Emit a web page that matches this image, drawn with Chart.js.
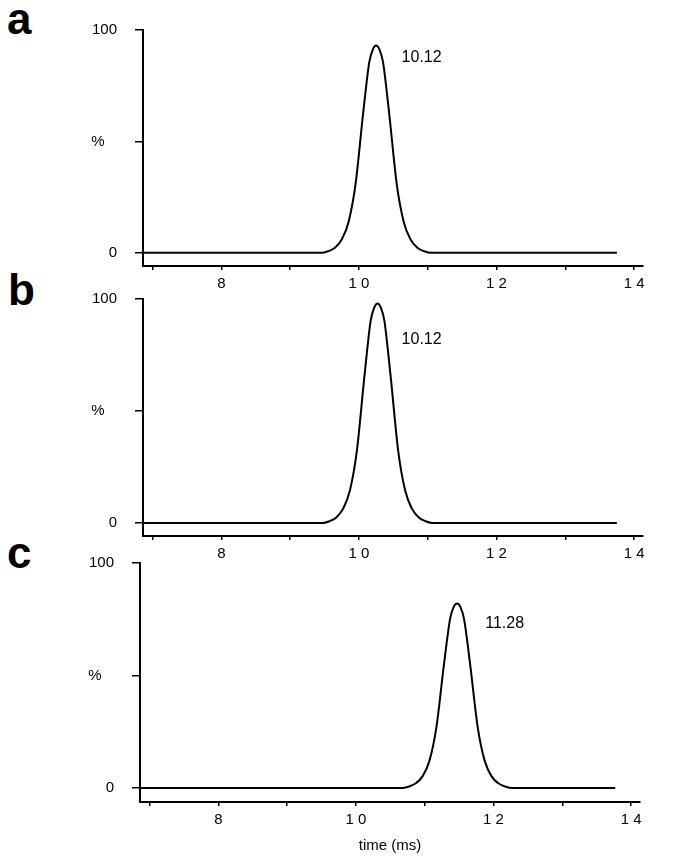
<!DOCTYPE html>
<html>
<head>
<meta charset="utf-8">
<script src="https://cdn.jsdelivr.net/npm/chart.js@4"></script>
<style>
  body { margin: 0; background: #fff; }
  #wrap { position: relative; width: 675px; height: 864px; overflow: hidden; }
  canvas { position: absolute; }
  .tag { position: absolute; font: bold 44px "Liberation Sans", Arial, sans-serif; line-height: 44px; color: #000; }
</style>
</head>
<body>
<div id="wrap">
  <div class="tag" style="left:7px;top:-3px">a</div>
  <div class="tag" style="left:8px;top:268px">b</div>
  <div class="tag" style="left:7px;top:531px">c</div>
  <canvas id="chartA" width="675" height="300" style="left:0;top:0"></canvas>
  <canvas id="chartB" width="675" height="301" style="left:0;top:269px"></canvas>
  <canvas id="chartC" width="675" height="331" style="left:-3px;top:533px"></canvas>
</div>
<script>
const xTicks = [7, 8, 9, 10, 11, 12, 13, 14];
const xTickLabels = ['', '8', '', '1 0', '', '1 2', '', '1 4'];
const yTicks = [0, 50, 100];
const yTickLabels = ['0', '%   ', '100'];

// panel a
const timeA = [6.86, 9.45, 9.55, 9.65, 9.75, 9.85, 9.95, 10.05, 10.10, 10.15, 10.20, 10.25,
  10.30, 10.35, 10.40, 10.45, 10.55, 10.65, 10.75, 10.85, 10.95, 11.05, 13.75];
const signalA = [0, 0, 0.7, 2.3, 6.0, 14.0, 30.7, 59.5, 73.5, 85.6, 91.1, 93,
  91.1, 85.6, 73.5, 59.5, 30.7, 14.0, 6.0, 2.3, 0.7, 0, 0];

// panel b
const timeB = [6.86, 9.47, 9.57, 9.67, 9.77, 9.87, 9.97, 10.07, 10.12, 10.17, 10.22, 10.27,
  10.32, 10.37, 10.42, 10.47, 10.57, 10.67, 10.77, 10.87, 10.97, 11.07, 13.75];
const signalB = [0, 0, 0.8, 2.5, 6.4, 14.7, 32.3, 62.7, 77.4, 90.2, 96.0, 98,
  96.0, 90.2, 77.4, 62.7, 32.3, 14.7, 6.4, 2.5, 0.8, 0, 0];

// panel c
const timeC = [6.86, 10.67, 10.77, 10.87, 10.97, 11.07, 11.17, 11.27, 11.32, 11.37, 11.42, 11.47,
  11.52, 11.57, 11.62, 11.67, 11.77, 11.87, 11.97, 12.07, 12.17, 12.27, 13.77];
const signalC = [0, 0, 0.7, 2.1, 5.3, 12.3, 27.1, 52.5, 64.8, 75.4, 80.4, 82,
  80.4, 75.4, 64.8, 52.5, 27.1, 12.3, 5.3, 2.1, 0.7, 0, 0];

const peakLabels = ['10.12', '10.12', '11.28'];

const FONT = '"Liberation Sans", Arial, sans-serif';
Chart.defaults.font.family = FONT;
Chart.defaults.color = '#000';

const peakText = {
  id: 'peakText',
  afterDatasetsDraw(chart, args, opts) {
    const { ctx, scales: { x, y } } = chart;
    ctx.save();
    ctx.font = '16px ' + FONT;
    ctx.fillStyle = '#000';
    ctx.textBaseline = 'middle';
    ctx.fillText(opts.text, x.getPixelForValue(opts.at[0]), y.getPixelForValue(opts.at[1]));
    ctx.restore();
  }
};

function makeChart(id, time, signal, yMin, label, labelAt, withTitle) {
  return new Chart(document.getElementById(id), {
    type: 'line',
    data: {
      datasets: [{
        data: time.map((t, i) => ({ x: t, y: signal[i] })),
        borderColor: '#000',
        borderWidth: 2,
        pointRadius: 0,
        fill: false,
        cubicInterpolationMode: 'monotone'
      }]
    },
    options: {
      responsive: false,
      animation: false,
      layout: { padding: { top: 30, right: 32, left: 0, bottom: 0 } },
      plugins: {
        legend: { display: false },
        tooltip: { enabled: false },
        peakText: { text: label, at: labelAt }
      },
      scales: {
        x: {
          type: 'linear',
          min: 6.86,
          max: 14.13,
          afterBuildTicks: s => { s.ticks = xTicks.map(v => ({ value: v })); },
          afterFit: s => { s.height = withTitle ? 62 : 34; s.paddingLeft = 0; s.paddingRight = 0; },
          border: { display: true, color: '#000', width: 2 },
          grid: { display: true, drawOnChartArea: false, drawTicks: true, tickLength: 4, color: '#000', lineWidth: 1.5 },
          ticks: {
            autoSkip: false, maxRotation: 0, padding: 5, color: '#000',
            font: { size: 15 },
            callback: (v, i) => xTickLabels[i]
          },
          title: {
            display: withTitle, text: 'time (ms)', color: '#000',
            font: { size: 15 }, padding: { top: 0, bottom: 9 }
          }
        },
        y: {
          min: yMin,
          max: 100,
          afterBuildTicks: s => { s.ticks = yTicks.map(v => ({ value: v })); },
          afterFit: s => { s.width = 143; s.paddingTop = 0; s.paddingBottom = 0; },
          border: { display: true, color: '#000', width: 2 },
          grid: { display: true, drawOnChartArea: false, drawTicks: true, tickLength: 8, color: '#000', lineWidth: 1.5 },
          ticks: {
            padding: 18, color: '#000',
            font: { size: 15 },
            callback: (v, i) => yTickLabels[i]
          }
        }
      }
    },
    plugins: [peakText]
  });
}

makeChart('chartA', timeA, signalA, -5.9, peakLabels[0], [10.62, 87.4], false);
makeChart('chartB', timeB, signalB, -5.8, peakLabels[1], [10.62, 81.7], false);
makeChart('chartC', timeC, signalC, -6.2, peakLabels[2], [11.88, 72.9], true);
</script>
</body>
</html>
